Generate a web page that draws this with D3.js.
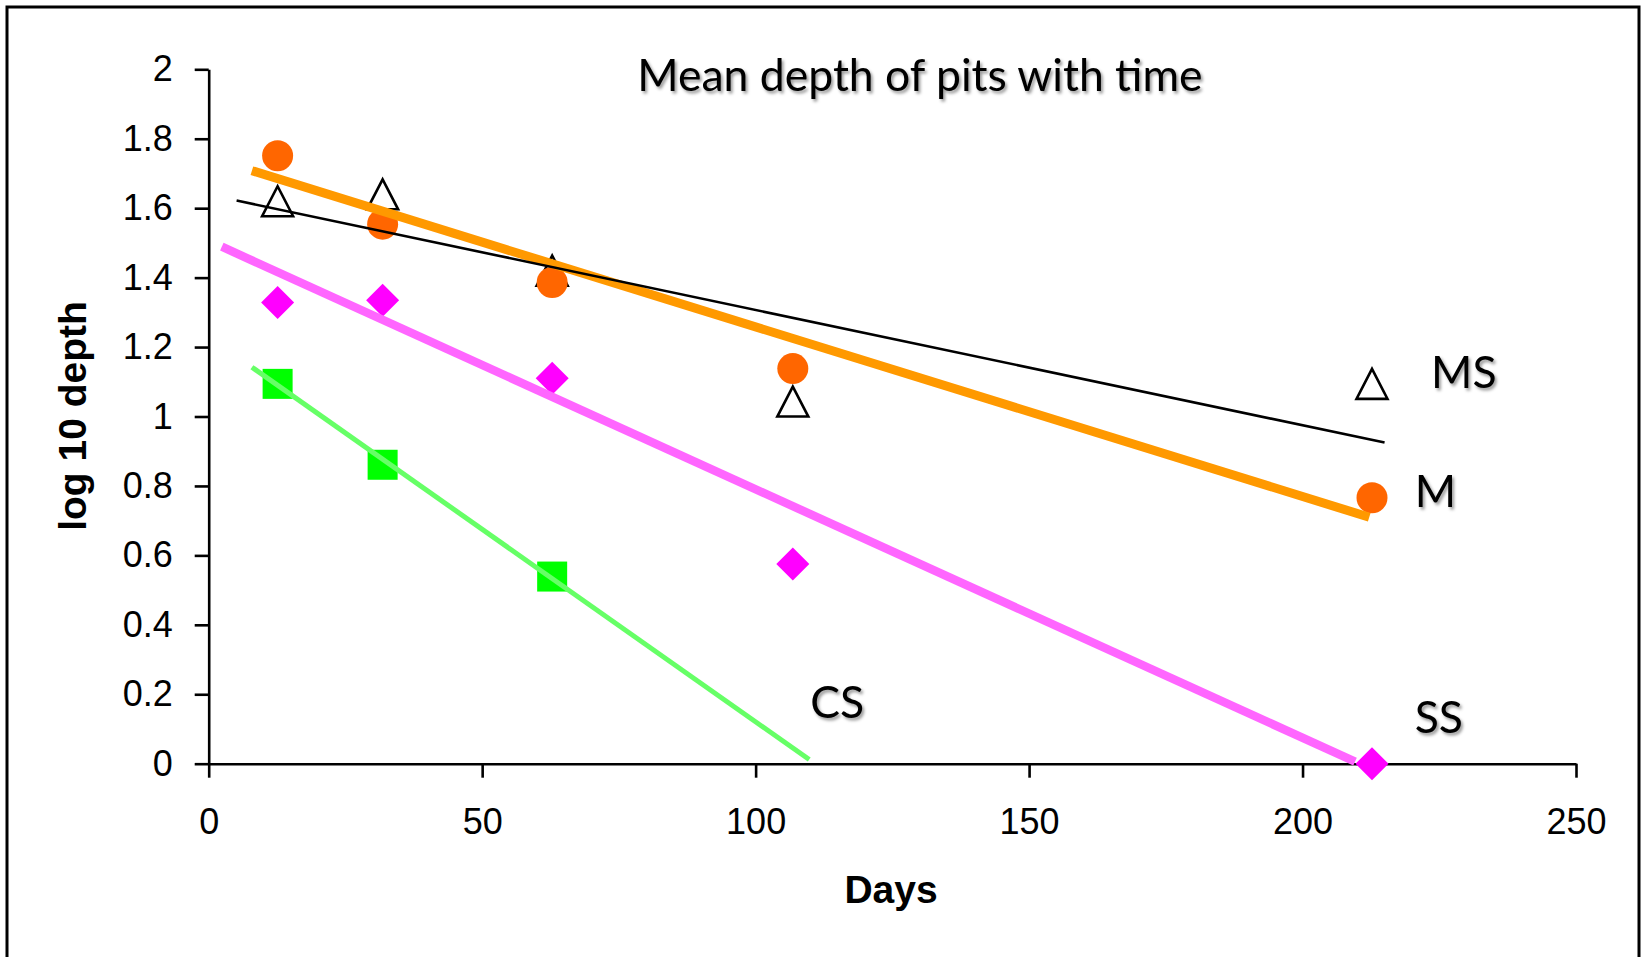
<!DOCTYPE html>
<html>
<head>
<meta charset="utf-8">
<script src="https://cdn.jsdelivr.net/npm/d3@7"></script>
<style>
  html, body { margin: 0; padding: 0; background: #fff; }
  svg { display: block; }
  .tick text { font-family: "Liberation Sans", Arial, sans-serif; font-size: 36px; fill: #000; }
  .axis-title { font-family: "Liberation Sans", Arial, sans-serif; font-weight: bold; font-size: 39px; fill: #000; }
  .shadowed { font-family: Lato, "Open Sans", sans-serif; font-size: 44.5px; fill: #000; }
</style>
</head>
<body>
<script>
// Sampling days and log10 mean pit depth for each material
const days = [12.6, 31.8, 62.8, 106.8, 212.7];
const depthM  = [1.751, 1.554, 1.386, 1.138, 0.766];
const depthMS = [1.620, 1.640, 1.420, 1.043, 1.094];
const depthSS = [1.328, 1.335, 1.110, 0.575, 0.000];
const depthCS = [1.094, 0.861, 0.539];

// Fitted trend lines, as [day, log depth] end points
const trendM  = [[7.9, 1.708], [212.2, 0.710]];
const trendMS = [[5.1, 1.622], [215.0, 0.925]];
const trendSS = [[2.4, 1.489], [209.6, 0.006]];
const trendCS = [[7.9, 1.142], [109.8, 0.012]];

// Series names and where they are written
const seriesNames = ["MS", "M", "CS", "SS"];
const seriesLabelAt = [[223.5, 1.082], [220.5, 0.739], [110.0, 0.132], [220.5, 0.088]];

const xTicks = [0, 50, 100, 150, 200, 250];
const yTicks = [0, 0.2, 0.4, 0.6, 0.8, 1, 1.2, 1.4, 1.6, 1.8, 2];

const chartTitle = "Mean depth of pits with time";
const xTitle = "Days";
const yTitle = "log 10 depth";

const W = 1645, H = 957;
const svg = d3.select("body").append("svg").attr("width", W).attr("height", H);

const defs = svg.append("defs");
const f = defs.append("filter").attr("id", "soft-shadow")
  .attr("x", "-10%").attr("y", "-20%").attr("width", "130%").attr("height", "150%");
f.append("feDropShadow").attr("dx", 2).attr("dy", 2.5).attr("stdDeviation", 1.6)
  .attr("flood-color", "#000").attr("flood-opacity", 0.4);

// Outer frame
svg.append("rect").attr("x", 7).attr("y", 7).attr("width", 1632).attr("height", 1000)
  .attr("fill", "none").attr("stroke", "#000").attr("stroke-width", 3);

const x = d3.scaleLinear().domain([0, 250]).range([208.7, 1576]);
const y = d3.scaleLinear().domain([0, 2]).range([763.7, 69.3]);

// Axes
const xAxis = d3.axisBottom(x).tickValues(xTicks).tickSizeInner(14).tickSizeOuter(0).tickPadding(31)
  .tickFormat(d3.format("d"));
const yAxis = d3.axisLeft(y).tickValues(yTicks).tickSizeInner(14).tickSizeOuter(0).tickPadding(22)
  .tickFormat(d => String(+d.toFixed(1)));

const gx = svg.append("g").attr("transform", `translate(0,${y(0)})`).call(xAxis);
const gy = svg.append("g").attr("transform", `translate(${x(0)},0)`).call(yAxis);
[gx, gy].forEach(g => {
  g.attr("font-size", null).attr("font-family", null);
  g.selectAll("path.domain").attr("stroke", "#000").attr("stroke-width", 2.6);
  g.selectAll(".tick line").attr("stroke", "#000").attr("stroke-width", 2.6);
});

// Axis titles
svg.append("text").attr("class", "axis-title")
  .attr("x", 891).attr("y", 903).attr("text-anchor", "middle").text(xTitle);
svg.append("text").attr("class", "axis-title")
  .attr("transform", "translate(86,416) rotate(-90)").attr("text-anchor", "middle").text(yTitle);

// Chart title
svg.append("text").attr("class", "shadowed").attr("filter", "url(#soft-shadow)")
  .attr("x", 920).attr("y", 91).attr("text-anchor", "middle").text(chartTitle);

const marks = svg.append("g");

// MS: open triangles
const triH = 30, triW = 31;
marks.selectAll("path.ms").data(days.map((d, i) => [d, depthMS[i]])).join("path")
  .attr("class", "ms")
  .attr("d", d => {
    const cx = x(d[0]), cy = y(d[1]);
    return `M${cx},${cy - triH / 2}L${cx + triW / 2},${cy + triH / 2}L${cx - triW / 2},${cy + triH / 2}Z`;
  })
  .attr("fill", "none").attr("stroke", "#000").attr("stroke-width", 2.6);

// M: orange circles
marks.selectAll("circle.m").data(days.map((d, i) => [d, depthM[i]])).join("circle")
  .attr("class", "m")
  .attr("cx", d => x(d[0])).attr("cy", d => y(d[1])).attr("r", 15.5)
  .attr("fill", "#FF6600");

// SS: magenta diamonds
const dh = 16.5;
marks.selectAll("path.ss").data(days.map((d, i) => [d, depthSS[i]])).join("path")
  .attr("class", "ss")
  .attr("d", d => {
    const cx = x(d[0]), cy = y(d[1]);
    return `M${cx},${cy - dh}L${cx + dh},${cy}L${cx},${cy + dh}L${cx - dh},${cy}Z`;
  })
  .attr("fill", "#FF00FF");

// CS: green squares
const sq = 30;
marks.selectAll("rect.cs").data(depthCS.map((v, i) => [days[i], v])).join("rect")
  .attr("class", "cs")
  .attr("x", d => x(d[0]) - sq / 2).attr("y", d => y(d[1]) - sq / 2)
  .attr("width", sq).attr("height", sq)
  .attr("fill", "#00FF00");

// Trend lines
const line = d3.line().x(d => x(d[0])).y(d => y(d[1]));
const trends = [
  { pts: trendSS, color: "#FF66FF", w: 8.5 },
  { pts: trendCS, color: "#66FF66", w: 5 },
  { pts: trendM,  color: "#FF9900", w: 9 },
  { pts: trendMS, color: "#000000", w: 2.6 }
];
svg.append("g").selectAll("path").data(trends).join("path")
  .attr("d", d => line(d.pts))
  .attr("fill", "none").attr("stroke", d => d.color).attr("stroke-width", d => d.w);

// Series labels
svg.append("g").selectAll("text").data(seriesNames).join("text")
  .attr("class", "shadowed").attr("filter", "url(#soft-shadow)")
  .attr("x", (d, i) => x(seriesLabelAt[i][0]))
  .attr("y", (d, i) => y(seriesLabelAt[i][1]))
  .text(d => d);
</script>
</body>
</html>
